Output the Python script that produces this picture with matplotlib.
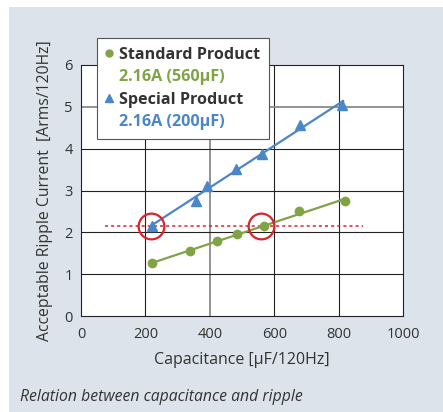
"""
Ripple current vs. capacitance for standard and special capacitors.
"""

import numpy as np
import matplotlib.pyplot as plt
from matplotlib.lines import Line2D
from matplotlib.patches import Rectangle

plt.rcParams["font.family"] = ["Open Sans", "DejaVu Sans"]

# capacitance [uF] and acceptable ripple current [Arms]
std_cap = [222, 340, 422, 486, 569, 676, 820]
std_ripple = [1.26, 1.55, 1.79, 1.97, 2.15, 2.51, 2.74]
spc_cap = [222, 356, 390, 481, 563, 680, 812]
spc_ripple = [2.15, 2.76, 3.10, 3.52, 3.88, 4.56, 5.04]

target_current = 2.16
target_span = [75, 876]
marked_caps = [218, 560]

xticks = [0, 200, 400, 600, 800, 1000]
yticks = [0, 1, 2, 3, 4, 5, 6]

GREEN = "#80a346"
BLUE = "#4a86c8"
RED = "#d8252c"
BG = "#dce3ea"
TEXT = "#333333"

fig = plt.figure(figsize=(4.43, 4.12), dpi=100)
fig.patches.append(Rectangle((9 / 443, 0), 1, 1 - 7 / 412, transform=fig.transFigure,
                             facecolor=BG, edgecolor="none", zorder=-10))

ax = fig.add_axes([81 / 443, 96 / 412, 322 / 443, 251 / 412])
ax.set_facecolor("white")
ax.set_xlim(0, 1000)
ax.set_ylim(0, 6)
ax.set_xticks(xticks)
ax.set_yticks(yticks)
ax.tick_params(length=0, labelsize=10.5, labelcolor=TEXT)
ax.tick_params(axis="x", pad=8)
ax.tick_params(axis="y", pad=6)

# grid
for x in xticks[1:-1]:
    if x == 400:
        ax.axvline(x, color="#8a8a8a", lw=1.3, zorder=1)
    else:
        ax.axvline(x, color="#222222", lw=0.8, zorder=1)
for y in yticks[1:-1]:
    if y == 5:
        ax.axhline(y, color="#8a8a8a", lw=1.3, zorder=1)
    else:
        ax.axhline(y, color="#222222", lw=0.8, zorder=1)
for side in ["left", "bottom", "top", "right"]:
    ax.spines[side].set_color("#222222")
    ax.spines[side].set_linewidth(0.8)

# fitted trend lines
for cap, rip, color in [(std_cap, std_ripple, GREEN), (spc_cap, spc_ripple, BLUE)]:
    k, b = np.polyfit(cap, rip, 1)
    xs = np.array([cap[0] - 2, cap[-1] + 2])
    ax.plot(xs, k * xs + b, color=color, lw=1.6, zorder=3)

ax.plot(std_cap, std_ripple, "o", color=GREEN, ms=6, zorder=4)
ax.plot(spc_cap, spc_ripple, "^", color=BLUE, ms=7, zorder=4)

# target ripple current and the capacitance that meets it
ax.plot(target_span, [target_current] * 2, color=RED, lw=1.1,
        linestyle=(0, (2, 2)), zorder=2, clip_on=False)
ax.plot(marked_caps, [target_current] * 2, "o", ms=18.5, mfc="none",
        mec=RED, mew=1.6, zorder=5)

ax.set_xlabel("Capacitance [µF/120Hz]", fontsize=11.5, color=TEXT, labelpad=7)
ax.set_ylabel("Acceptable Ripple Current  [Arms/120Hz]", fontsize=11.3,
              color=TEXT, labelpad=8)

handles = [
    Line2D([], [], marker="o", color=GREEN, ls="none", ms=5),
    Line2D([], [], ls="none"),
    Line2D([], [], marker="^", color=BLUE, ls="none", ms=6),
    Line2D([], [], ls="none"),
]
labels = ["Standard Product", "2.16A (560µF)", "Special Product", "2.16A (200µF)"]
leg = fig.legend(handles, labels, loc="upper left",
                 bbox_to_anchor=(97 / 443, 1 - 38 / 412),
                 prop={"weight": "bold", "size": 11.6},
                 labelcolor=[TEXT, GREEN, TEXT, BLUE],
                 frameon=True, fancybox=False, framealpha=1,
                 edgecolor="#555555", handlelength=0.45, handletextpad=0.35,
                 labelspacing=0.4, borderpad=0.55, borderaxespad=0)
leg.get_frame().set_linewidth(0.8)
leg.set_zorder(10)

fig.text(20 / 443, 1 - 397 / 412, "Relation between capacitance and ripple",
         fontsize=11.3, style="italic", color=TEXT, va="center")

fig.savefig("out.png", dpi=100)
